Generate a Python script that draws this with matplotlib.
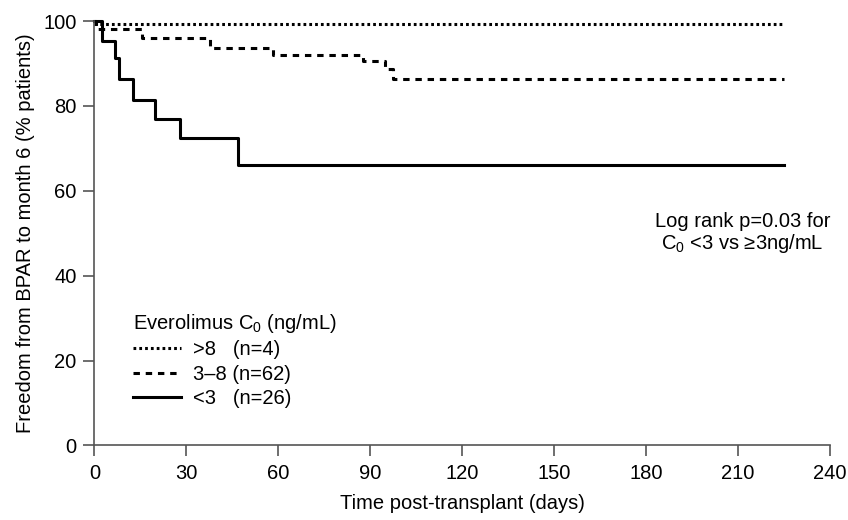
import matplotlib
matplotlib.use('Agg')
import matplotlib.pyplot as plt

plt.rcParams['font.family'] = ['Liberation Sans', 'DejaVu Sans']
plt.rcParams['mathtext.fontset'] = 'custom'
plt.rcParams['mathtext.rm'] = 'Liberation Sans'
plt.rcParams['mathtext.it'] = 'Liberation Sans:italic'

# Kaplan-Meier steps (days, % free from BPAR)
gt8_days = [0, 225]
gt8_pct = [99.4, 99.4]

mid_days = [0, 0.6, 15.5, 37.8, 58.4, 87.6, 94.9, 97.4, 225]
mid_pct = [100, 98.0, 96.0, 93.7, 92.1, 90.5, 88.8, 86.4, 86.4]

lt3_days = [0, 2.5, 6.7, 8.0, 12.6, 19.9, 28.0, 46.8, 225]
lt3_pct = [100, 95.4, 91.2, 86.3, 81.4, 76.9, 72.5, 66.1, 66.1]

legend_labels = ['>8   (n=4)', '3\u20138 (n=62)', '<3   (n=26)']
x_ticks = [0, 30, 60, 90, 120, 150, 180, 210, 240]
y_ticks = [0, 20, 40, 60, 80, 100]

fs = 14.5
lw = 2.2
axis_col = '#555555'

fig = plt.figure(figsize=(8.48, 5.2), dpi=100)
ax = fig.add_axes([0.1114, 0.1433, 0.8673, 0.8163])

l1, = ax.step(gt8_days, gt8_pct, where='post', color='black', lw=lw,
              linestyle=(0, (0.9, 1.0)), clip_on=False)
l2, = ax.step(mid_days, mid_pct, where='post', color='black', lw=lw,
              linestyle=(0, (2.1, 1.9)), clip_on=False)
l3, = ax.step(lt3_days, lt3_pct, where='post', color='black', lw=lw,
              clip_on=False)

ax.set_xlim(0, 240)
ax.set_ylim(0, 100)
ax.set_xticks(x_ticks)
ax.set_yticks(y_ticks)
for s in ['top', 'right']:
    ax.spines[s].set_visible(False)
for s in ['left', 'bottom']:
    ax.spines[s].set_color(axis_col)
    ax.spines[s].set_linewidth(1.2)
ax.tick_params(length=8, width=1.2, color=axis_col, labelsize=fs, pad=5)

ax.set_xlabel('Time post-transplant (days)', fontsize=fs, labelpad=8)
ax.set_ylabel('Freedom from BPAR to month 6 (% patients)', fontsize=fs, labelpad=6)

leg = ax.legend([l1, l2, l3], legend_labels, title='Everolimus C$_0$ (ng/mL)',
                loc='upper left', bbox_to_anchor=(0.052, 0.315), frameon=False,
                fontsize=fs, title_fontsize=fs, handlelength=2.4,
                handletextpad=0.6, labelspacing=0.27, borderpad=0,
                borderaxespad=0, alignment='left')

ax.text(211.5, 50.0, 'Log rank p=0.03 for\nC$_0$ <3 vs \u22653ng/mL',
        fontsize=fs, ha='center', va='center', multialignment='center',
        linespacing=1.04)

fig.savefig('out.png', dpi=100)
